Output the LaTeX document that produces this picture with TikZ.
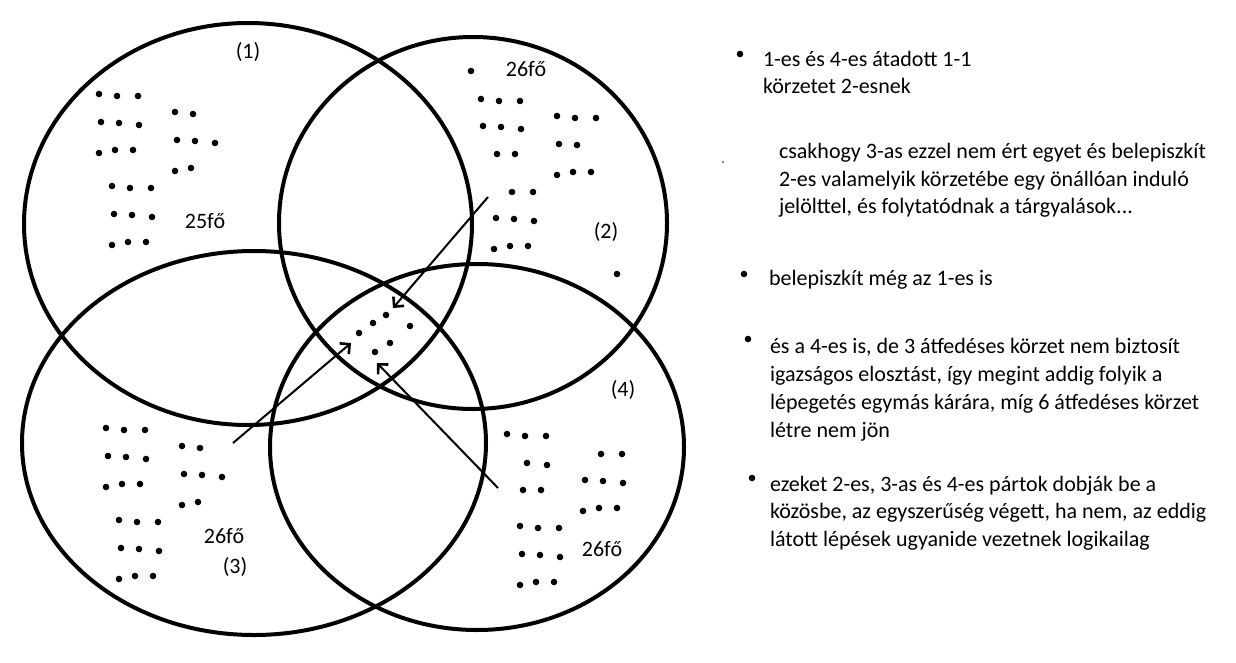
\documentclass[tikz,border=0pt]{standalone}
\usepackage{fontspec}
\setmainfont{Carlito}
\usetikzlibrary{arrows.meta}

\begin{document}
\begin{tikzpicture}[x=1pt,y=-1pt,
  venn/.style={draw=black,fill=none,line width=4pt},
  push/.style={draw=black,line width=2pt,-{Straight Barb[angle=90:10pt,line width=2.6pt]}},
  txt/.style={inner sep=0pt,outer sep=0pt,anchor=base west,text=black,font=\fontsize{22}{26}\selectfont},
  lbl/.style={inner sep=0pt,outer sep=0pt,text=black,font=\fontsize{22}{26}\selectfont}]
\path[use as bounding box] (0,0) rectangle (1236,662);
\path[fill=white,draw=none] (0,0) rectangle (1236,662);
% the four districts
\draw[venn] (248,224) ellipse [x radius=224,y radius=201];
\draw[venn] (473,223) ellipse [x radius=194,y radius=186];
\draw[venn] (254,443) ellipse [x radius=232,y radius=192];
\draw[venn] (477,447) ellipse [x radius=207,y radius=183];
% voters
\foreach \p in {(99,94),(117,96),(138,96),(101,122),(119,123),(139,125),(99,153),(115,150),(133,150),(175,112),(193,114),(177,140),(195,141),(215,143),(175,171),(191,168),(112,186),(130,188),(151,188),(114,214),(132,215),(152,217),(112,245),(128,242),(146,242)}
  \fill \p circle[radius=3.3];
\foreach \p in {(471,71),(481,99),(499,101),(520,101),(483,126),(501,127),(521,129),(497,154),(515,154),(557,116),(575,118),(596,118),(559,144),(577,145),(557,175),(573,172),(591,172),(512,192),(533,192),(496,218),(514,219),(534,221),(494,249),(510,246),(528,246),(617,274)}
  \fill \p circle[radius=3.3];
\foreach \p in {(106,428),(124,430),(145,430),(108,456),(126,457),(146,459),(106,487),(122,484),(140,484),(182,446),(200,448),(184,474),(202,475),(222,477),(182,505),(198,502),(119,520),(137,522),(158,522),(121,548),(139,549),(159,551),(119,579),(135,576),(153,576)}
  \fill \p circle[radius=3.3];
\foreach \p in {(507,434),(525,436),(546,436),(527,463),(547,465),(523,490),(541,490),(601,454),(622,454),(585,480),(603,481),(623,483),(583,511),(599,508),(617,508),(520,526),(538,528),(559,528),(522,554),(540,555),(560,557),(520,585),(536,582),(554,582)}
  \fill \p circle[radius=3.3];
\foreach \p in {(359,333),(373,323),(386,315),(410,326),(390,343),(375,352)}
  \fill \p circle[radius=3.3];
% labels
\node[lbl] (n1) at (248,52) {(1)};
\node[lbl] (n2) at (606,232) {(2)};
\node[lbl] (n3) at (235,567) {(3)};
\node[lbl] (n4) at (623,390) {(4)};
\node[lbl] (f1) at (205,221) {25fő};
\node[lbl] (f2) at (526,69) {26fő};
\node[lbl] (f3) at (224,536) {26fő};
\node[lbl] (f4) at (602,549) {26fő};
% moves into the shared district
\coordinate (s2) at (488,197);
\coordinate (t2) at (393,308);
\coordinate (s3) at (233,443);
\coordinate (t3) at (351,343);
\coordinate (s4) at (498,488);
\coordinate (t4) at (377,363);
\draw[push] (s2) -- (t2);
\draw[push] (s3) -- (t3);
\draw[push] (s4) -- (t4);
% notes
\fill (723,162) circle[radius=0.8];
\fill (740,54) circle[radius=3.3];
\node[txt] (p1a) at (763,66) {1-es és 4-es átadott 1-1};
\node[txt] (p1b) at (763,93.5) {körzetet 2-esnek};
\node[txt] (p2a) at (779,158.5) {csakhogy 3-as ezzel nem ért egyet és belepiszkít};
\node[txt] (p2b) at (779,186) {2-es valamelyik körzetébe egy önállóan induló};
\node[txt] (p2c) at (779,213.5) {jelölttel, és folytatódnak a tárgyalások...};
\fill (744,274) circle[radius=3.3];
\node[txt] (p3a) at (769,285) {belepiszkít még az 1-es is};
\fill (748,339) circle[radius=3.3];
\node[txt] (p4a) at (770,353.5) {és a 4-es is, de 3 átfedéses körzet nem biztosít};
\node[txt] (p4b) at (770,381.5) {igazságos elosztást, így megint addig folyik a};
\node[txt] (p4c) at (770,409.5) {lépegetés egymás kárára, míg 6 átfedéses körzet};
\node[txt] (p4d) at (770,437.5) {létre nem jön};
\fill (752,478) circle[radius=3.3];
\node[txt] (p5a) at (770,491) {ezeket 2-es, 3-as és 4-es pártok dobják be a};
\node[txt] (p5b) at (770,518.5) {közösbe, az egyszerűség végett, ha nem, az eddig};
\node[txt] (p5c) at (770,546) {látott lépések ugyanide vezetnek logikailag};
\end{tikzpicture}
\end{document}
